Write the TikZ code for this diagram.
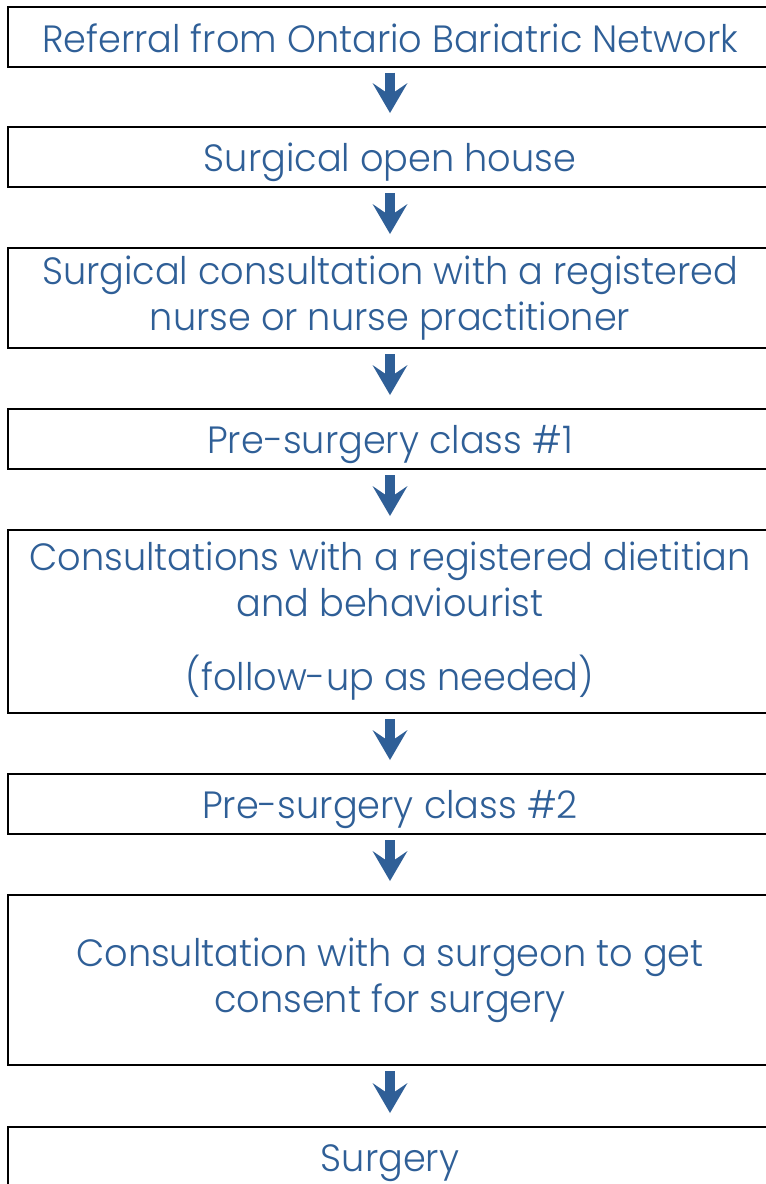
\documentclass[tikz,border=0pt]{standalone}
\usepackage{fontspec}
\setmainfont{Poppins Light}[FakeStretch=0.965]
\usepackage{tikz}
\usetikzlibrary{arrows.meta,positioning}
\definecolor{pathblue}{HTML}{2F5F97}
\newcommand{\stagestrut}{\rule[-9pt]{0pt}{49pt}}

\begin{document}
\begin{tikzpicture}[
  stage/.style ={draw=black,line width=2pt,minimum width=764pt,minimum height=60pt,
                 align=center,text=pathblue,inner sep=0pt,
                 font=\fontsize{38}{46}\selectfont,
                 execute at begin node=\stagestrut,
                 execute at end node=\stagestrut},
  tall/.style  ={stage,minimum height=100pt},
  arr/.style   ={-{Stealth[width=35pt,length=30pt,inset=12pt,line width=0pt]},
                 line width=10pt,color=pathblue,shorten <=5pt,shorten >=13pt},
  x=1pt, y=1pt
]
\useasboundingbox (0,0) rectangle (766,-1184);
%% Stages, top to bottom (centred at x=390)
\node[stage] (referral) at (390,-36.5)  {Referral from Ontario Bariatric Network};
\node[stage] (openhouse) at (390,-157)  {Surgical open house};
\node[tall]  (nurse)    at (390,-298)
  {Surgical consultation with a registered\\nurse or nurse practitioner};
\node[stage] (classone) at (390,-439)   {Pre-surgery class \#1};
\node[stage,minimum height=183pt] (dietitian) at (390,-621.5)
  {Consultations with a registered dietitian\\and behaviourist\\[28pt]
   (follow-up as needed)};
\node[stage] (classtwo) at (390,-804)   {Pre-surgery class \#2};
\node[stage,minimum height=170pt] (surgeon) at (390,-980)
  {Consultation with a surgeon to get\\consent for surgery};
\node[stage] (surgery) at (390,-1157) {Surgery};
%% Arrows between stages
\draw[arr] (referral.south)  -- (openhouse.north);
\draw[arr] (openhouse.south) -- (nurse.north);
\draw[arr] (nurse.south)     -- (classone.north);
\draw[arr] (classone.south)  -- (dietitian.north);
\draw[arr] (dietitian.south) -- (classtwo.north);
\draw[arr] (classtwo.south)  -- (surgeon.north);
\draw[arr] (surgeon.south)   -- (surgery.north);
\end{tikzpicture}
\end{document}
